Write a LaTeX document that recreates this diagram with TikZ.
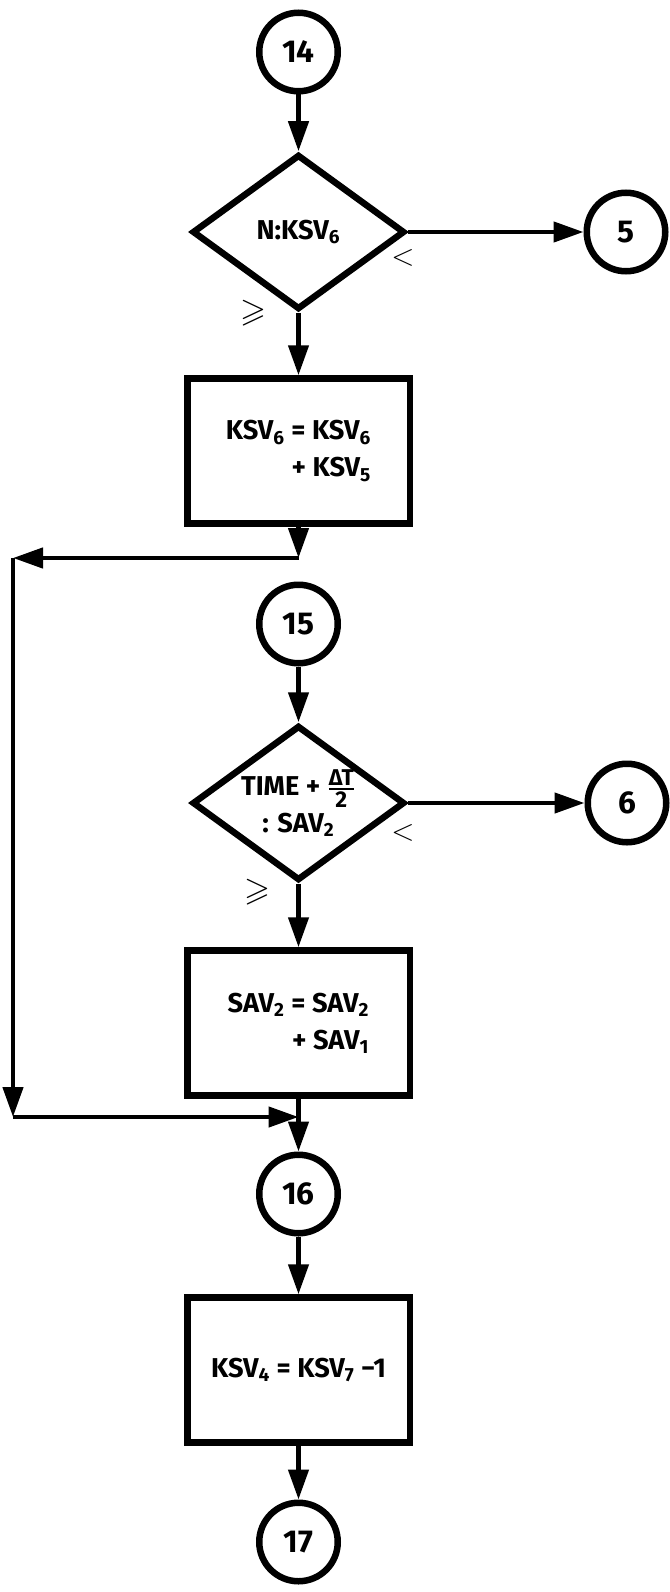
\documentclass[tikz,border=0pt]{standalone}
\usepackage{amsmath,amssymb}
\usepackage{fontspec}
\setmainfont{Fira Sans}
\usetikzlibrary{arrows.meta,shapes.geometric}
\begin{document}
\begin{tikzpicture}[>={Triangle[length=0.6cm,width=0.4cm]}, line width=0.09cm,
  font=\fontsize{15.5}{21}\selectfont\bfseries,
  conn/.style={circle, draw, line width=0.13cm, minimum size=1.57cm, inner sep=0pt, font=\fontsize{18}{18}\selectfont\bfseries},
  dec/.style={diamond, draw, line width=0.13cm, minimum width=4.25cm, minimum height=3.1cm, inner sep=0pt},
  box/.style={draw, line width=0.13cm, minimum width=4.45cm, minimum height=2.9cm, align=right},
  rel/.style={font=\fontsize{19}{19}\selectfont}]
\useasboundingbox (0,0) rectangle (13.38,-31.84);

\node[conn] (n14) at (5.97,-1.04) {14};
\node[dec] (q1) at (5.97,-4.64) {N:KSV\textsubscript{6}};
\node[conn] (n5) at (12.52,-4.64) {5};
\node[rel] (lt1) at (8.06,-5.16) {$<$};
\node[rel] (ge1) at (5.06,-6.26) {$\geqslant$};
\node[box] (s1) at (5.97,-9.02) {KSV\textsubscript{6} = KSV\textsubscript{6}\\+ KSV\textsubscript{5}};

\draw[->] (n14)--(q1);
\draw[->] (q1)--(n5);
\draw[->] (q1)--(s1);

\coordinate (j1) at (5.97,-11.16);
\coordinate (k1) at (0.26,-11.16);
\coordinate (k2) at (0.26,-22.34);
\coordinate (j2) at (5.97,-22.34);

\draw[->] (s1)--(j1);
\draw[->] (j1)--(k1);
\draw[->] (k1)--(k2);
\draw[->] (k2)--(j2);

\node[conn] (n15) at (5.97,-12.48) {15};
\node[dec, label={[align=center]center:{TIME + \(\genfrac{}{}{1pt}{}{\mbox{\fontsize{13}{13}\selectfont ΔT}}{\mbox{\fontsize{13}{13}\selectfont 2}}\)\\: SAV\textsubscript{2}}}] (q2) at (5.97,-16.06) {};
\node[conn] (n6) at (12.54,-16.06) {6};
\node[rel] (lt2) at (8.06,-16.66) {$<$};
\node[rel] (ge2) at (5.14,-17.84) {$\geqslant$};
\node[box] (s2) at (5.97,-20.46) {SAV\textsubscript{2} = SAV\textsubscript{2}\\+ SAV\textsubscript{1}};

\draw[->] (n15)--(q2);
\draw[->] (q2)--(n6);
\draw[->] (q2)--(s2);

\node[conn] (n16) at (5.97,-23.88) {16};
\node[box] (s3) at (5.97,-27.4) {KSV\textsubscript{4} = KSV\textsubscript{7} −1};
\node[conn] (n17) at (5.97,-30.84) {17};

\draw[->] (s2)--(n16);
\draw[->] (n16)--(s3);
\draw[->] (s3)--(n17);
\end{tikzpicture}
\end{document}
